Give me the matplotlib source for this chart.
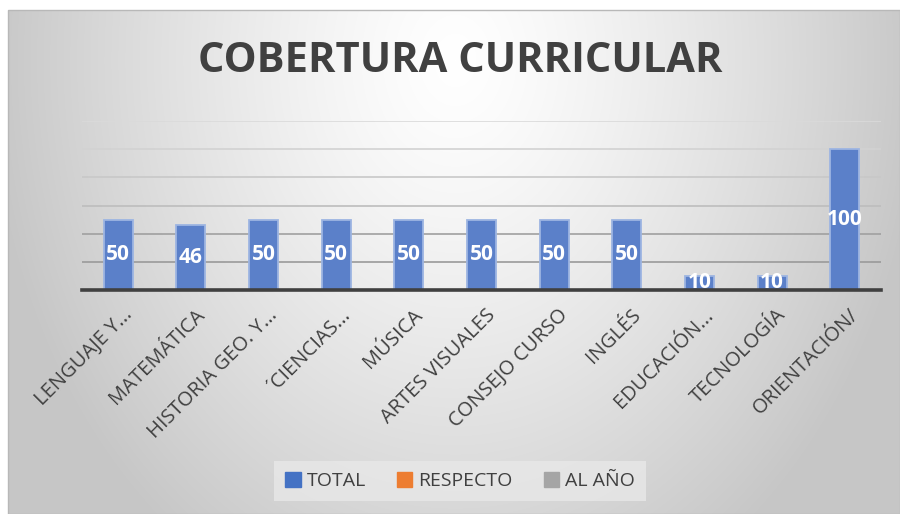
import numpy as np
import matplotlib
matplotlib.use("Agg")
import matplotlib.pyplot as plt
import matplotlib.transforms as mtransforms
from matplotlib.patches import Rectangle, Patch

categories = ["LENGUAJE Y...", "MATEMÁTICA", "HISTORIA GEO. Y...", "´CIENCIAS...",
              "MÚSICA", "ARTES VISUALES", "CONSEJO CURSO", "INGLÉS",
              "EDUCACIÓN...", "TECNOLOGÍA", "ORIENTACIÓN/"]
total = [50, 46, 50, 50, 50, 50, 50, 50, 10, 10, 100]
series_names = ["TOTAL", "RESPECTO", "AL AÑO"]
series_colors = ["#4472C4", "#ED7D31", "#A5A5A5"]
title = "COBERTURA CURRICULAR"

plt.rcParams['font.family'] = ['Open Sans', 'DejaVu Sans']

W, H = 900, 514
fig = plt.figure(figsize=(W / 100, H / 100), dpi=100)
fig.patch.set_facecolor("white")

# gradient background of chart area
x0, y0 = 8, 10
bg = fig.add_axes([x0 / W, 0, (W - x0) / W, (H - y0) / H], zorder=0)
bw, bh = W - x0, H - y0
xx, yy = np.meshgrid(np.arange(bw), np.arange(bh))
cx, cy = 455 - x0, 60 - y0
d = np.sqrt(((xx - cx) / 470.0) ** 2 + ((yy - cy) / 600.0) ** 2)
t = np.clip(d, 0, 1) ** 1.3
white, gray = 1.0, 198 / 255
img = white * (1 - t) + gray * t
bg.imshow(np.dstack([img, img, img]), aspect='auto', extent=(0, bw, bh, 0))
bg.set_axis_off()
fig.patches.append(Rectangle((x0 / W, 0), (W - x0) / W, (H - y0) / H,
                             transform=fig.transFigure, fill=False,
                             edgecolor="#b8b8b8", linewidth=1.0, zorder=1))

ax = fig.add_axes([82 / W, 1 - 290 / H, (881 - 82) / W, (290 - 121) / H], zorder=2)
ax.set_facecolor("none")
x = np.arange(len(categories))
bars = ax.bar(x, total, width=0.4, color="#5B80C9", edgecolor="#9DB5E2",
              linewidth=1.3, zorder=3)
for b, v in zip(bars, total):
    ax.text(b.get_x() + b.get_width() / 2, v / 2, str(v), ha='center', va='center',
            color='white', fontsize=15, fontweight='bold', zorder=4)

ax.set_xlim(-0.5, len(categories) - 0.5)
ax.set_ylim(0, 120)
ax.set_yticks([20, 40, 60, 80, 100, 120])
ax.yaxis.grid(True, linewidth=1.2, zorder=1)
grid_cols = ["#9a9a9a", "#a0a0a0", "#bdbdbd", "#c8c8c8", "#d2d2d2", "#dadada"]
for gl, c in zip(ax.yaxis.get_gridlines(), grid_cols):
    gl.set_color(c)
ax.tick_params(axis='y', left=False, labelleft=False)
ax.tick_params(axis='x', bottom=False)
for s in ["top", "right", "left"]:
    ax.spines[s].set_visible(False)
ax.spines["bottom"].set_color("#404040")
ax.spines["bottom"].set_linewidth(2.6)
ax.spines["bottom"].set_zorder(5)

ax.set_xticks(x)
ax.set_xticklabels([])
off = mtransforms.ScaledTranslation(4 / 100, -15 / 100, fig.dpi_scale_trans)
for xi, lab in zip(x, categories):
    ax.text(xi, 0, lab, transform=ax.get_xaxis_transform() + off, rotation=45,
            rotation_mode='anchor', ha='right', va='top', fontsize=14.5,
            color="#404040")

fig.text(460 / W, 1 - 62 / H, title, ha='center', va='center', fontsize=30,
         fontweight='bold', color="#404040", zorder=3)

handles = [Patch(facecolor=c, edgecolor=c) for c in series_colors]
leg = fig.legend(handles, series_names, loc='center', bbox_to_anchor=(460 / W, 1 - 481 / H),
                 ncol=3, frameon=True, fontsize=14, handlelength=0.8, handleheight=0.8,
                 handletextpad=0.3, columnspacing=1.6, borderpad=0.55, fancybox=False)
leg.get_frame().set_facecolor("#e8e8e8")
leg.get_frame().set_edgecolor("none")
leg.get_frame().set_alpha(0.8)
for tx in leg.get_texts():
    tx.set_color("#404040")
leg.set_zorder(4)

fig.savefig("out.png", dpi=100)
